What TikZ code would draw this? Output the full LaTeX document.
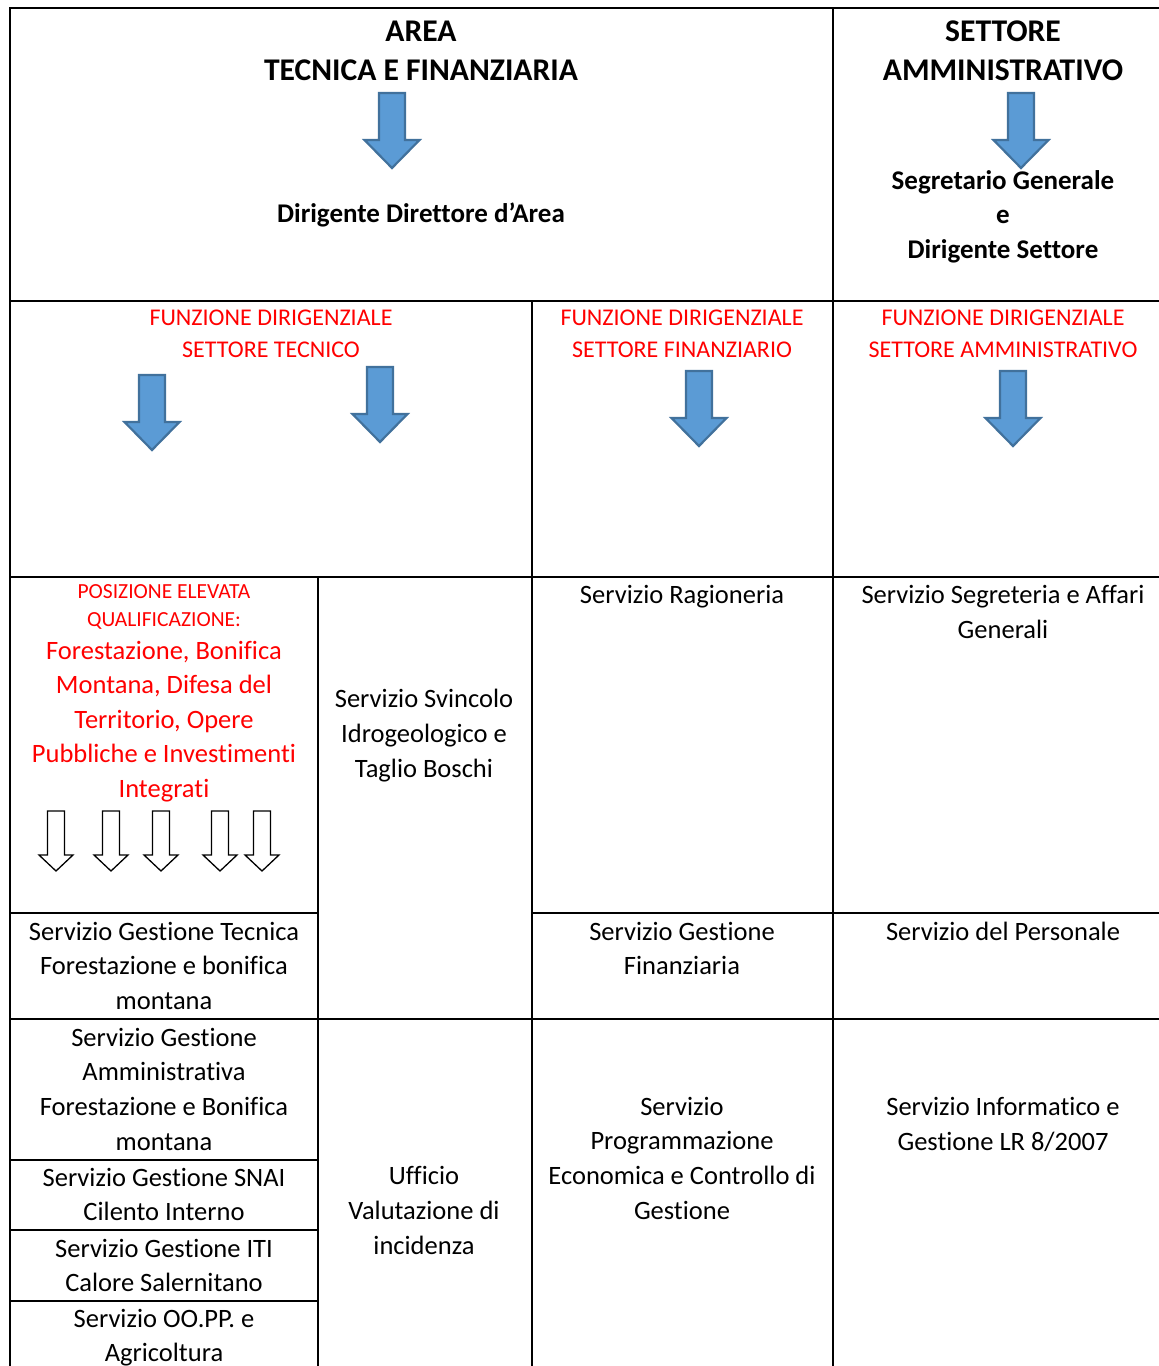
\documentclass[tikz,border=0pt]{standalone}
\usepackage{fontspec}
\setmainfont{Carlito}[Ligatures={NoCommon,NoContextual,NoRequired},RawFeature=-calt]
\definecolor{arrowfill}{HTML}{5B9BD5}
\definecolor{arrowline}{HTML}{41719C}
\begin{document}
\begin{tikzpicture}[x=1pt,y=-1pt,
  grid/.style={line width=2pt,black},
  txt/.style={anchor=base,inner sep=0pt,font=\fontsize{26.5}{32}\selectfont},
  ttl/.style={anchor=base,inner sep=0pt,font=\fontsize{31.6}{38}\selectfont\bfseries},
  btxt/.style={anchor=base,inner sep=0pt,font=\fontsize{27}{32}\selectfont\bfseries},
  redfun/.style={anchor=base,inner sep=0pt,text=red,font=\fontsize{24}{29}\selectfont},
  redsmall/.style={anchor=base,inner sep=0pt,text=red,font=\fontsize{21.5}{26}\selectfont},
  redbig/.style={anchor=base,inner sep=0pt,text=red,font=\fontsize{26.5}{32}\selectfont},
  barrow/.pic={\draw[fill=arrowfill,draw=arrowline,line width=2.2pt,line join=miter]
     (-13,0) -- (13,0) -- (13,47) -- (27.5,47) -- (0,75) -- (-27.5,47) -- (-13,47) -- cycle;},
  harrow/.pic={\draw[fill=white,draw=black,line width=1.3pt,line join=miter]
     (-8.5,0) -- (8.5,0) -- (8.5,44) -- (17,44) -- (0,60) -- (-17,44) -- (-8.5,44) -- cycle;}
]
\useasboundingbox (0,0) rectangle (1159,1366);
\fill[white] (0,0) rectangle (1159,1366);
% table grid
\draw[grid] (10,1366) -- (10,8) -- (1159,8);
\draw[grid] (10,301) -- (1159,301);
\draw[grid] (10,577) -- (1159,577);
\draw[grid] (10,913) -- (318,913);
\draw[grid] (532,913) -- (1159,913);
\draw[grid] (10,1019) -- (1159,1019);
\draw[grid] (10,1160) -- (318,1160);
\draw[grid] (10,1230) -- (318,1230);
\draw[grid] (10,1301) -- (318,1301);
\draw[grid] (833,8) -- (833,1366);
\draw[grid] (532,301) -- (532,1366);
\draw[grid] (318,577) -- (318,1366);
% blue arrows
\pic at (392,93) {barrow};
\pic at (1021,93) {barrow};
\pic at (152,375) {barrow};
\pic at (380,367) {barrow};
\pic at (699,371) {barrow};
\pic at (1013,371) {barrow};
% hollow arrows
\foreach \ax in {56,111,161,220,262} \pic at (\ax,811) {harrow};
% header texts
\node[ttl] (area1) at (421,41) {AREA};
\node[ttl] (area2) at (421,80) {TECNICA E FINANZIARIA};
\node[btxt] (dir) at (421,222) {Dirigente Direttore d’Area};
\node[ttl] (set1) at (1003,41) {SETTORE};
\node[ttl] (set2) at (1003,80) {AMMINISTRATIVO};
\node[btxt] (seg1) at (1003,189) {Segretario Generale};
\node[btxt] (seg2) at (1003,223) {e};
\node[btxt] (seg3) at (1003,258) {Dirigente Settore};
% funzioni dirigenziali
\node[redfun] (fa1) at (271,325) {FUNZIONE DIRIGENZIALE};
\node[redfun] (fa2) at (271,357) {SETTORE TECNICO};
\node[redfun] (fb1) at (682,325) {FUNZIONE DIRIGENZIALE};
\node[redfun] (fb2) at (682,357) {SETTORE FINANZIARIO};
\node[redfun] (fc1) at (1003,325) {FUNZIONE DIRIGENZIALE};
\node[redfun] (fc2) at (1003,357) {SETTORE AMMINISTRATIVO};
% posizione elevata
\node[redsmall] (pe1) at (164,598) {POSIZIONE ELEVATA};
\node[redsmall] (pe2) at (164,626) {QUALIFICAZIONE:};
\foreach \t [count=\i] in {{Forestazione, Bonifica},{Montana, Difesa del},{Territorio, Opere},{Pubbliche e Investimenti},{Integrati}}
  \node[redbig] (pf\i) at (164,{659+34.5*(\i-1)}) {\t};
% services
\foreach \t [count=\i] in {Servizio Svincolo,Idrogeologico e,Taglio Boschi}
  \node[txt] (sv\i) at (424,{707+35*(\i-1)}) {\t};
\node[txt] (rag) at (682,603) {Servizio Ragioneria};
\foreach \t [count=\i] in {Servizio Segreteria e Affari,Generali}
  \node[txt] (sg\i) at (1003,{603+35*(\i-1)}) {\t};
\foreach \t [count=\i] in {Servizio Gestione Tecnica,Forestazione e bonifica,montana}
  \node[txt] (gt\i) at (164,{940+34.5*(\i-1)}) {\t};
\foreach \t [count=\i] in {Servizio Gestione,Finanziaria}
  \node[txt] (gf\i) at (682,{940+34.5*(\i-1)}) {\t};
\node[txt] (pers) at (1003,940) {Servizio del Personale};
\foreach \t [count=\i] in {Servizio Gestione,Amministrativa,Forestazione e Bonifica,montana}
  \node[txt] (ga\i) at (164,{1046+34.7*(\i-1)}) {\t};
\foreach \t [count=\i] in {Servizio Gestione SNAI,Cilento Interno}
  \node[txt] (sn\i) at (164,{1186+34.5*(\i-1)}) {\t};
\foreach \t [count=\i] in {Servizio Gestione ITI,Calore Salernitano}
  \node[txt] (it\i) at (164,{1257+34.5*(\i-1)}) {\t};
\foreach \t [count=\i] in {Servizio OO.PP. e,Agricoltura}
  \node[txt] (oo\i) at (164,{1327+34.5*(\i-1)}) {\t};
\foreach \t [count=\i] in {Ufficio,Valutazione di,incidenza}
  \node[txt] (uv\i) at (424,{1184+35*(\i-1)}) {\t};
\foreach \t [count=\i] in {Servizio,Programmazione,Economica e Controllo di,Gestione}
  \node[txt] (pr\i) at (682,{1115+34.7*(\i-1)}) {\t};
\foreach \t [count=\i] in {Servizio Informatico e,Gestione LR 8/2007}
  \node[txt] (inf\i) at (1003,{1115+35*(\i-1)}) {\t};
\end{tikzpicture}
\end{document}
